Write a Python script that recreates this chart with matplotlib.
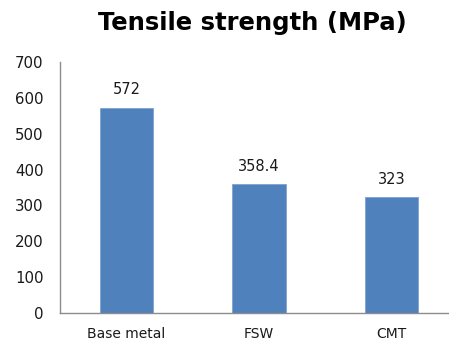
import matplotlib.pyplot as plt
import numpy as np

categories = ["Base metal", "FSW", "CMT"]
values = [572, 358.4, 323]
labels = ["572", "358.4", "323"]
yticks = [0, 100, 200, 300, 400, 500, 600, 700]

W, H = 449, 342
fig = plt.figure(figsize=(W / 100, H / 100), dpi=100)
plt.rcParams["font.family"] = "DejaVu Sans"
# axes spans 60..458 px horizontally (clipped at right edge), 62..313 vertically
ax = fig.add_axes([60 / W, (H - 313) / H, 398 / W, (313 - 62) / H])

x = np.arange(len(categories))
ax.bar(x, values, width=0.4, color="#4F81BD", edgecolor="#7FA3D0", linewidth=0.6)
for xi, v, lab in zip(x, values, labels):
    ax.annotate(lab, (xi, v), xytext=(0, 7.5), textcoords="offset points",
                ha="center", va="bottom", fontsize=10.5, color="#1a1a1a")

ax.set_xlim(-0.5, 2.5)
ax.set_ylim(0, 700)
ax.set_yticks(yticks)
ax.set_xticks(x)
ax.set_xticklabels(categories)
ax.tick_params(length=0, colors="#1a1a1a")
ax.tick_params(axis="y", pad=12, labelsize=10.8)
ax.tick_params(axis="x", pad=10, labelsize=10)
for s in ["top", "right"]:
    ax.spines[s].set_visible(False)
for s in ["left", "bottom"]:
    ax.spines[s].set_color("#8C8C8C")
    ax.spines[s].set_linewidth(1.0)

fig.text(252 / W, 1 - 30 / H, "Tensile strength (MPa)", ha="center", va="baseline",
         fontsize=17.5, fontweight="bold")

fig.savefig("out.png", dpi=100)
